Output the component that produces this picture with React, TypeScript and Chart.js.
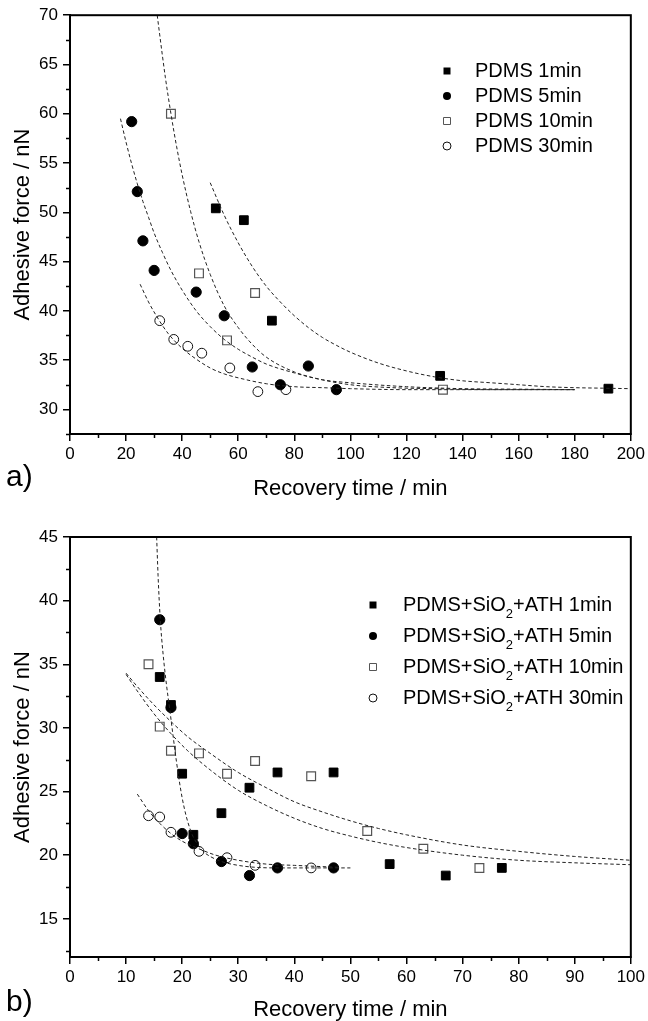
import React, { useEffect, useRef } from 'react';
import { Chart, registerables } from 'chart.js';

Chart.register(...registerables);

const FONT = '"Liberation Sans", Arial, Helvetica, sans-serif';

// ---------------- Panel a) : PDMS ----------------
const aX1 = [52, 62, 72, 132, 192];
const aY1 = [50.4, 49.2, 39.0, 33.4, 32.1];
const aX5 = [22, 24, 26, 30, 45, 55, 65, 75, 85, 95];
const aY5 = [59.2, 52.1, 47.1, 44.1, 41.9, 39.5, 34.3, 32.5, 34.4, 32.0];
const aX10 = [36, 46, 56, 66, 133];
const aY10 = [60.0, 43.8, 37.0, 41.8, 32.0];
const aX30 = [32, 37, 42, 47, 57, 67, 77];
const aY30 = [39.0, 37.1, 36.4, 35.7, 34.2, 31.8, 32.0];

// dashed fit curves
const aFit1X = [50, 55, 60, 65, 70, 75, 80, 85, 90, 95, 100, 110, 120, 130, 140, 150, 160, 170, 180, 190, 200];
const aFit1Y = [53.0, 49.7, 46.9, 44.5, 42.5, 40.9, 39.5, 38.3, 37.3, 36.5, 35.8, 34.7, 33.9, 33.3, 32.9, 32.7, 32.5, 32.3, 32.2, 32.15, 32.1];
const aFit5X = [18, 20, 22, 24, 26, 28, 30, 33, 36, 40, 45, 50, 55, 60, 65, 70, 80, 90, 100, 120, 140, 160, 180];
const aFit5Y = [59.5, 57.1, 54.9, 52.9, 51.1, 49.5, 47.9, 45.9, 44.1, 42.1, 40.0, 38.4, 37.1, 36.1, 35.3, 34.6, 33.7, 33.0, 32.7, 32.3, 32.1, 32.05, 32.0];
const aFit10X = [31.1, 32, 33, 34, 36, 38, 40, 43, 46, 50, 55, 60, 65, 70, 80, 90, 100, 115, 130, 150, 180];
const aFit10Y = [70, 68.0, 65.8, 63.7, 60.0, 56.7, 53.8, 50.1, 47.0, 43.7, 40.5, 38.3, 36.6, 35.3, 33.8, 33.0, 32.5, 32.2, 32.1, 32.0, 32.0];
const aFit30X = [25, 28, 31, 35, 40, 45, 50, 55, 60, 70, 80, 90, 100, 120, 150, 180];
const aFit30Y = [42.7, 40.9, 39.4, 37.7, 36.2, 35.1, 34.2, 33.6, 33.2, 32.6, 32.3, 32.2, 32.1, 32.0, 32.0, 32.0];

const aXTicks = [0, 20, 40, 60, 80, 100, 120, 140, 160, 180, 200];
const aXMinor = [10, 30, 50, 70, 90, 110, 130, 150, 170, 190];
const aYTicks = [30, 35, 40, 45, 50, 55, 60, 65, 70];
const aYMinor = [27.5, 32.5, 37.5, 42.5, 47.5, 52.5, 57.5, 62.5, 67.5];
const aLegend = ['PDMS 1min', 'PDMS 5min', 'PDMS 10min', 'PDMS 30min'];

// ---------------- Panel b) : PDMS+SiO2+ATH ----------------
const bX1 = [16, 18, 20, 22, 27, 32, 37, 47, 57, 67, 77];
const bY1 = [34.0, 31.8, 26.4, 21.6, 23.3, 25.3, 26.5, 26.5, 19.3, 18.4, 19.0];
const bX5 = [16, 18, 20, 22, 27, 32, 37, 47];
const bY5 = [38.5, 31.6, 21.7, 20.9, 19.5, 18.4, 19.0, 19.0];
const bX10 = [14, 16, 18, 23, 28, 33, 43, 53, 63, 73];
const bY10 = [35.0, 30.1, 28.2, 28.0, 26.4, 27.4, 26.2, 21.9, 20.5, 19.0];
const bX30 = [14, 16, 18, 23, 28, 33, 43];
const bY30 = [23.1, 23.0, 21.8, 20.3, 19.8, 19.2, 19.0];

const bFit5X = [15.45, 15.7, 16.1, 16.6, 17.2, 17.8, 18.4, 19, 19.5, 20, 20.7, 21.3, 21.9, 23, 24, 25, 27, 30, 33, 37, 43, 50];
const bFit5Y = [45, 42.0, 38.5, 35.8, 33.4, 31.4, 29.3, 27.3, 25.8, 24.5, 23.1, 22.2, 21.5, 20.7, 20.2, 19.9, 19.5, 19.2, 19.05, 19.0, 19.0, 19.0];
const bFitUX = [10, 12, 15, 18, 21, 25, 30, 35, 40, 45, 50, 55, 60, 70, 80, 90, 100];
const bFitUY = [34.3, 33.25, 31.8, 30.5, 29.3, 28.0, 26.5, 25.3, 24.2, 23.4, 22.7, 22.1, 21.6, 20.8, 20.3, 19.9, 19.6];
const bFitLX = [10, 12, 15, 18, 21, 25, 30, 35, 40, 45, 50, 55, 60, 70, 80, 90, 100];
const bFitLY = [34.2, 32.9, 31.1, 29.55, 28.2, 26.7, 25.1, 23.9, 22.9, 22.1, 21.5, 21.0, 20.6, 20.0, 19.6, 19.4, 19.25];
const bFit30X = [12, 14, 16, 18, 20, 23, 26, 30, 35, 40, 45, 48];
const bFit30Y = [24.8, 23.5, 22.5, 21.7, 21.1, 20.5, 20.0, 19.6, 19.3, 19.2, 19.1, 19.05];

const bXTicks = [0, 10, 20, 30, 40, 50, 60, 70, 80, 90, 100];
const bXMinor = [5, 15, 25, 35, 45, 55, 65, 75, 85, 95];
const bYTicks = [15, 20, 25, 30, 35, 40, 45];
const bYMinor = [12.5, 17.5, 22.5, 27.5, 32.5, 37.5, 42.5];
const bLegendHead = 'PDMS+SiO';
const bLegendSub = '2';
const bLegendTail = ['+ATH 1min', '+ATH 5min', '+ATH 10min', '+ATH 30min'];

// ---------------- styles ----------------
type Mark = { shape: 'rect' | 'circle'; fill: boolean; color: string; radius: number; lw: number };
const MARKS: Mark[] = [
  { shape: 'rect', fill: true, color: '#000', radius: 6.2, lw: 1 },
  { shape: 'circle', fill: true, color: '#000', radius: 5.1, lw: 1 },
  { shape: 'rect', fill: false, color: '#555', radius: 6.2, lw: 1.2 },
  { shape: 'circle', fill: false, color: '#111', radius: 4.9, lw: 1 },
];

const zip = (xs: number[], ys: number[]) => xs.map((x, i) => ({ x, y: ys[i] }));

interface Panel {
  xMin: number; xMax: number; yMin: number; yMax: number;
  xTicks: number[]; xMinor: number[]; yTicks: number[]; yMinor: number[];
  series: { x: number[]; y: number[] }[];
  fits: { x: number[]; y: number[] }[];
  padTop: number; xAxisHeight: number; xTitlePad: number;
  label: string; labelY: number;
  legendX: number; legendTextX: number; legendY0: number; legendDY: number;
  drawLegendText: (ctx: CanvasRenderingContext2D, i: number, x: number, y: number) => void;
}

function drawMark(ctx: CanvasRenderingContext2D, m: Mark, x: number, y: number, s: number) {
  ctx.beginPath();
  if (m.shape === 'rect') ctx.rect(x - s / 2, y - s / 2, s, s);
  else ctx.arc(x, y, s / 2 + 0.5, 0, Math.PI * 2);
  if (m.fill) { ctx.fillStyle = m.color; ctx.fill(); }
  else { ctx.strokeStyle = m.color; ctx.lineWidth = 1; ctx.stroke(); }
}

function makeDecor(p: Panel) {
  return {
    id: 'decor',
    afterDraw(chart: any) {
      const { ctx, chartArea: a, scales } = chart;
      ctx.save();
      ctx.strokeStyle = '#000';
      ctx.lineWidth = 2;
      ctx.strokeRect(a.left, a.top, a.right - a.left, a.bottom - a.top);
      ctx.lineWidth = 1.5;
      ctx.beginPath();
      for (const v of p.xMinor) {
        const px = Math.round(scales.x.getPixelForValue(v)) + 0.5;
        ctx.moveTo(px, a.bottom); ctx.lineTo(px, a.bottom + 4);
      }
      for (const v of p.yMinor) {
        const py = Math.round(scales.y.getPixelForValue(v)) + 0.5;
        ctx.moveTo(a.left, py); ctx.lineTo(a.left - 4, py);
      }
      ctx.stroke();
      // legend
      for (let i = 0; i < MARKS.length; i++) {
        const y = p.legendY0 + i * p.legendDY;
        drawMark(ctx, MARKS[i], p.legendX, y, 7);
        ctx.fillStyle = '#000';
        ctx.textBaseline = 'middle';
        ctx.textAlign = 'left';
        p.drawLegendText(ctx, i, p.legendTextX, y);
      }
      // panel label
      ctx.fillStyle = '#000';
      ctx.font = `30px ${FONT}`;
      ctx.textBaseline = 'middle';
      ctx.textAlign = 'left';
      ctx.fillText(p.label, 6, p.labelY);
      ctx.restore();
    },
  };
}

function buildConfig(p: Panel): any {
  const fitSets = p.fits.map((f) => ({
    type: 'line',
    data: zip(f.x, f.y),
    showLine: true,
    borderColor: '#222',
    borderWidth: 1,
    borderDash: [3.5, 2.5],
    pointRadius: 0,
    fill: false,
    cubicInterpolationMode: 'monotone',
  }));
  const pointSets = p.series.map((s, i) => ({
    type: 'scatter',
    data: zip(s.x, s.y),
    showLine: false,
    pointStyle: MARKS[i].shape,
    pointRadius: MARKS[i].radius,
    pointBackgroundColor: MARKS[i].fill ? MARKS[i].color : 'rgba(0,0,0,0)',
    pointBorderColor: MARKS[i].color,
    pointBorderWidth: MARKS[i].lw,
  }));
  const tickFont = { family: FONT, size: 17 };
  const titleFont = { family: FONT, size: 22, lineHeight: 1 };
  return {
    type: 'scatter',
    data: { datasets: [...fitSets, ...pointSets] },
    options: {
      responsive: false,
      animation: false,
      events: [],
      layout: { padding: { top: p.padTop, right: 15, left: 0, bottom: 0 } },
      plugins: { legend: { display: false }, tooltip: { enabled: false } },
      scales: {
        x: {
          type: 'linear',
          min: p.xMin,
          max: p.xMax,
          afterBuildTicks: (ax: any) => { ax.ticks = p.xTicks.map((v) => ({ value: v })); },
          afterFit: (ax: any) => { ax.height = p.xAxisHeight; },
          grid: { drawOnChartArea: false, drawTicks: true, tickLength: 7, color: '#000', lineWidth: 1.5 },
          border: { display: true, color: '#000', width: 2 },
          ticks: { color: '#000', font: tickFont, padding: 3, autoSkip: false, maxRotation: 0, callback: (v: any) => String(v) },
          title: { display: true, text: 'Recovery time / min', color: '#000', font: titleFont, padding: { top: 0, bottom: p.xTitlePad } },
        },
        y: {
          type: 'linear',
          min: p.yMin,
          max: p.yMax,
          afterBuildTicks: (ax: any) => { ax.ticks = p.yTicks.map((v) => ({ value: v })); },
          afterFit: (ax: any) => { ax.width = 70; },
          grid: { drawOnChartArea: false, drawTicks: true, tickLength: 7, color: '#000', lineWidth: 1.5 },
          border: { display: true, color: '#000', width: 2 },
          ticks: { color: '#000', font: tickFont, padding: 5, autoSkip: false, callback: (v: any) => String(v) },
          title: { display: true, text: 'Adhesive force / nN', color: '#000', font: titleFont, padding: { top: 12, bottom: 0 } },
        },
      },
    },
    plugins: [makeDecor(p)],
  };
}

const panelA: Panel = {
  xMin: 0, xMax: 200, yMin: 27.5, yMax: 70,
  xTicks: aXTicks, xMinor: aXMinor, yTicks: aYTicks, yMinor: aYMinor,
  series: [{ x: aX1, y: aY1 }, { x: aX5, y: aY5 }, { x: aX10, y: aY10 }, { x: aX30, y: aY30 }],
  fits: [{ x: aFit1X, y: aFit1Y }, { x: aFit5X, y: aFit5Y }, { x: aFit10X, y: aFit10Y }, { x: aFit30X, y: aFit30Y }],
  padTop: 15, xAxisHeight: 76, xTitlePad: 10,
  label: 'a)', labelY: 478,
  legendX: 447, legendTextX: 475, legendY0: 71, legendDY: 25,
  drawLegendText: (ctx, i, x, y) => {
    ctx.font = `20px ${FONT}`;
    ctx.fillText(aLegend[i], x, y);
  },
};

const panelB: Panel = {
  xMin: 0, xMax: 100, yMin: 12, yMax: 45,
  xTicks: bXTicks, xMinor: bXMinor, yTicks: bYTicks, yMinor: bYMinor,
  series: [{ x: bX1, y: bY1 }, { x: bX5, y: bY5 }, { x: bX10, y: bY10 }, { x: bX30, y: bY30 }],
  fits: [{ x: bFitUX, y: bFitUY }, { x: bFitLX, y: bFitLY }, { x: bFit5X, y: bFit5Y }, { x: bFit30X, y: bFit30Y }],
  padTop: 27, xAxisHeight: 64, xTitlePad: 0,
  label: 'b)', labelY: 493,
  legendX: 373, legendTextX: 403, legendY0: 95, legendDY: 31,
  drawLegendText: (ctx, i, x, y) => {
    ctx.font = `20px ${FONT}`;
    ctx.fillText(bLegendHead, x, y);
    let w = ctx.measureText(bLegendHead).width;
    ctx.font = `13px ${FONT}`;
    ctx.fillText(bLegendSub, x + w, y + 9);
    w += ctx.measureText(bLegendSub).width;
    ctx.font = `20px ${FONT}`;
    ctx.fillText(bLegendTail[i], x + w, y);
  },
};

export default function App() {
  const refA = useRef<HTMLCanvasElement>(null);
  const refB = useRef<HTMLCanvasElement>(null);
  useEffect(() => {
    document.body.style.margin = '0';
    const cA = new Chart(refA.current as HTMLCanvasElement, buildConfig(panelA));
    const cB = new Chart(refB.current as HTMLCanvasElement, buildConfig(panelB));
    return () => { cA.destroy(); cB.destroy(); };
  }, []);
  return (
    <div style={{ position: 'relative', width: 648, height: 1021, background: '#fff', overflow: 'hidden' }}>
      <canvas ref={refA} width={648} height={510} style={{ position: 'absolute', left: 0, top: 0, width: 648, height: 510 }} />
      <canvas ref={refB} width={648} height={511} style={{ position: 'absolute', left: 0, top: 510, width: 648, height: 511 }} />
    </div>
  );
}
